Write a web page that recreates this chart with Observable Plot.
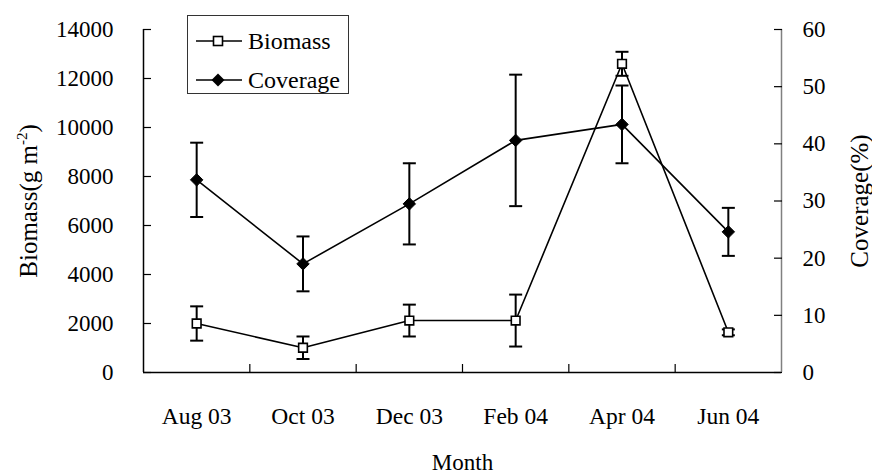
<!DOCTYPE html>
<html>
<head>
<meta charset="utf-8">
<script src="https://cdn.jsdelivr.net/npm/d3@7"></script>
<script src="https://cdn.jsdelivr.net/npm/@observablehq/plot@0.6"></script>
<style>
  body { margin: 0; background: #fff; color: #000; }
  #chart { position: relative; width: 872px; height: 474px; }
  .legend { position: absolute; left: 187px; top: 15px; width: 162px; height: 79px; box-sizing: border-box;
            border: 1.5px solid #333; background: #fff; font-size: 24px; }
  .legend .row { position: absolute; left: 0; width: 100%; height: 24px; }
  .legend svg { position: absolute; left: 6px; top: 2px; }
  .legend span { position: absolute; left: 60px; top: 0; line-height: 24px; white-space: nowrap; }
</style>
</head>
<body>
<div id="chart" style="font-family:'Liberation Serif'"></div>
<script>
// Sampling months
const months = ["Aug 03", "Oct 03", "Dec 03", "Feb 04", "Apr 04", "Jun 04"];
// Biomass (g m-2), mean and error
const biomass = [2000, 1010, 2120, 2120, 12600, 1640];
const biomassErr = [700, 460, 650, 1060, 490, 120];
// Coverage (%), mean and error
const coverage = [33.7, 19.0, 29.5, 40.6, 43.4, 24.6];
const coverageErr = [6.5, 4.8, 7.1, 11.5, 6.8, 4.2];
// Axis ticks
const biomassTicks = [0, 2000, 4000, 6000, 8000, 10000, 12000, 14000];
const coverageTicks = [0, 10, 20, 30, 40, 50, 60];

// coverage is drawn on the biomass scale via this factor (60 % ↔ 14000)
const k = 14000 / 60;

const rows = months.map((m, i) => ({
  pos: i + 0.5,
  month: m,
  b: biomass[i], be: biomassErr[i],
  c: coverage[i] * k, ce: coverageErr[i] * k
}));

// horizontal cap for error bars
const cap = {
  draw(context, size) {
    const w = Math.sqrt(size / Math.PI);
    context.moveTo(-w, 0);
    context.lineTo(w, 0);
  }
};

const tickFont = 23.5;
const titleFont = 25;
const serif = "Liberation Serif";

const chart = Plot.plot({
  width: 872,
  height: 474,
  marginLeft: 143,
  marginRight: 91,
  marginTop: 29,
  marginBottom: 102,
  style: { fontSize: tickFont + "px", fontFamily: serif, background: "#fff", color: "#000" },
  x: { domain: [0, months.length], axis: null },
  y: { domain: [0, 14000], axis: null },
  marks: [
    // axis lines
    Plot.ruleY([0], { stroke: "#000", strokeWidth: 1.5 }),
    Plot.ruleX([0], { stroke: "#000", strokeWidth: 1.5 }),
    Plot.ruleX([months.length], { stroke: "#808080", strokeWidth: 1.5 }),

    // inward ticks
    Plot.axisY(biomassTicks, { anchor: "left", tickSize: 8, insetLeft: 8, fill: "none", strokeWidth: 1.2 }),
    Plot.axisY(coverageTicks.map(v => v * k), { anchor: "right", tickSize: 8, insetRight: 8, fill: "none", strokeWidth: 1.2 }),
    Plot.axisX(d3.range(1, months.length), { anchor: "bottom", tickSize: 8, insetBottom: 8, fill: "none", strokeWidth: 1.2 }),

    // tick labels
    Plot.axisY(biomassTicks, { anchor: "left", tickSize: 0, tickPadding: 30, label: null, fontSize: tickFont - 0.5, fontFamily: serif,
      tickFormat: d => String(d) }),
    Plot.axisY(coverageTicks.map(v => v * k), { anchor: "right", tickSize: 0, tickPadding: 21, label: null, fontSize: tickFont - 0.5, fontFamily: serif,
      tickFormat: d => String(Math.round(d / k)) }),
    Plot.axisX(rows.map(d => d.pos), { anchor: "bottom", tickSize: 0, tickPadding: 35, label: null, fontSize: tickFont, fontFamily: serif,
      tickFormat: d => months[Math.floor(d)] }),

    // axis titles
    Plot.text(["Month"], { frameAnchor: "bottom", dy: 97, fontSize: 23, fontFamily: serif }),
    Plot.text(["Biomass(g m-2)"], { frameAnchor: "left", dx: -115, rotate: -90, textAnchor: "middle", lineAnchor: "middle",
      fontSize: titleFont, fontFamily: serif, className: "ylab" }),
    Plot.text(["Coverage(%)"], { frameAnchor: "right", dx: 78, rotate: -90, textAnchor: "middle", lineAnchor: "middle",
      fontSize: titleFont, fontFamily: serif }),

    // error bars
    Plot.ruleX(rows, { x: "pos", y1: d => d.c - d.ce, y2: d => d.c + d.ce, stroke: "#000", strokeWidth: 2 }),
    Plot.dot(rows, { x: "pos", y: d => d.c + d.ce, symbol: cap, r: 6.5, stroke: "#000", strokeWidth: 2 }),
    Plot.dot(rows, { x: "pos", y: d => d.c - d.ce, symbol: cap, r: 6.5, stroke: "#000", strokeWidth: 2 }),
    Plot.ruleX(rows, { x: "pos", y1: d => d.b - d.be, y2: d => d.b + d.be, stroke: "#000", strokeWidth: 2 }),
    Plot.dot(rows, { x: "pos", y: d => d.b + d.be, symbol: cap, r: 6.5, stroke: "#000", strokeWidth: 2 }),
    Plot.dot(rows, { x: "pos", y: d => d.b - d.be, symbol: cap, r: 6.5, stroke: "#000", strokeWidth: 2 }),

    // series lines
    Plot.line(rows, { x: "pos", y: "c", stroke: "#000", strokeWidth: 1.6 }),
    Plot.line(rows, { x: "pos", y: "b", stroke: "#000", strokeWidth: 1.6 }),

    // markers
    Plot.dot(rows, { x: "pos", y: "c", symbol: "diamond2", r: 5.6, fill: "#000", stroke: "#000", strokeWidth: 1 }),
    Plot.dot(rows, { x: "pos", y: "b", symbol: "square", r: 4.9, fill: "#fff", stroke: "#000", strokeWidth: 1.6 })
  ]
});

// superscript exponent in the biomass unit
d3.select(chart).selectAll("g.ylab text").each(function () {
  const t = d3.select(this);
  t.text(null);
  t.append("tspan").text("Biomass(g m");
  t.append("tspan").attr("dy", -10).attr("font-size", 15).text("-2");
  t.append("tspan").attr("dy", 10).text(")");
});

// serif face on every label
d3.select(chart).selectAll("text").style("font-family", serif);

const root = document.getElementById("chart");
root.appendChild(chart);

// legend
const legend = document.createElement("div");
legend.className = "legend";
legend.style.fontFamily = serif;
legend.innerHTML = `
  <div class="row" style="top:12.5px">
    <svg width="50" height="20"><line x1="2" y1="10" x2="48" y2="10" stroke="#000" stroke-width="1.6"/>
      <rect x="19.5" y="5.5" width="9" height="9" fill="#fff" stroke="#000" stroke-width="1.6"/></svg>
    <span style="top:0px">Biomass</span>
  </div>
  <div class="row" style="top:52px">
    <svg width="50" height="20"><line x1="2" y1="10" x2="48" y2="10" stroke="#000" stroke-width="1.6"/>
      <path d="M24,3.5L30.5,10L24,16.5L17.5,10Z" fill="#000"/></svg>
    <span style="top:0px">Coverage</span>
  </div>`;
root.appendChild(legend);
</script>
</body>
</html>
